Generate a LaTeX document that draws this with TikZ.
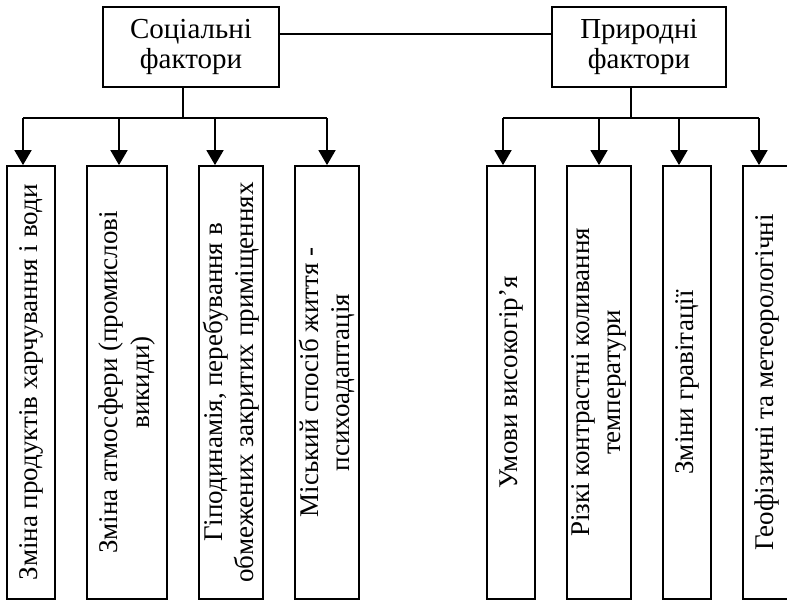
\documentclass[tikz,border=0pt]{standalone}
\usepackage{fontspec}
\setmainfont{Liberation Serif}
\usetikzlibrary{arrows.meta}
\begin{document}
\begin{tikzpicture}[x=1pt,y=-1pt,
  line/.style={line width=1.8pt},
  arr/.style={line width=1.8pt,-{Triangle[width=17pt,length=15pt]}},
  topbox/.style={draw,line width=1.8pt,align=center,inner sep=0pt,minimum height=80pt,
    font=\fontsize{29}{30}\selectfont},
  vbox/.style={draw,line width=1.8pt,align=center,inner sep=0pt,rotate=90,minimum width=433pt,
    font=\fontsize{27}{31.5}\selectfont}]
\useasboundingbox (0,0) rectangle (787,600);
% top boxes
\node[topbox,minimum width=176pt] (soc) at (191,47) {Соціальні\\фактори};
\node[topbox,minimum width=174pt] (nat) at (639,47) {Природні\\фактори};
\coordinate (lnk) at (400,34);
\draw[line] (soc.east |- lnk) -- (nat.west |- lnk);
% social boxes
\node[vbox,minimum height=48pt] (b1) at (31,382.5) {Зміна продуктів харчування і води};
\node[vbox,minimum height=80pt] (b2) at (127,382.5) {Зміна атмосфери (промислові\\викиди)};
\node[vbox,minimum height=64pt] (b3) at (231,382.5) {Гіподинамія, перебування в\\обмежених закритих приміщеннях};
\node[vbox,minimum height=64pt] (b4) at (327,382.5) {Міський спосіб життя -\\психоадаптація};
% natural boxes
\node[vbox,minimum height=48pt] (b5) at (511,382.5) {Умови високогір’я};
\node[vbox,minimum height=64pt] (b6) at (599,382.5) {Різкі контрастні коливання\\температури};
\node[vbox,minimum height=48pt] (b7) at (687,382.5) {Зміни гравітації};
\node[vbox,minimum height=48pt] (b8) at (767,382.5) {Геофізичні та метеорологічні};
% social tree
\coordinate (sj) at (183,118);
\coordinate (a1) at (23,118);
\coordinate (a2) at (119,118);
\coordinate (a3) at (215,118);
\coordinate (a4) at (327,118);
\draw[line] (soc.south -| sj) -- (sj);
\draw[line] (a1) -- (a4);
\draw[arr] (a1) -- (a1 |- b1.east);
\draw[arr] (a2) -- (a2 |- b2.east);
\draw[arr] (a3) -- (a3 |- b3.east);
\draw[arr] (a4) -- (a4 |- b4.east);
% natural tree
\coordinate (nj) at (631,118);
\coordinate (c1) at (503,118);
\coordinate (c2) at (599,118);
\coordinate (c3) at (679,118);
\coordinate (c4) at (759,118);
\draw[line] (nat.south -| nj) -- (nj);
\draw[line] (c1) -- (c4);
\draw[arr] (c1) -- (c1 |- b5.east);
\draw[arr] (c2) -- (c2 |- b6.east);
\draw[arr] (c3) -- (c3 |- b7.east);
\draw[arr] (c4) -- (c4 |- b8.east);
\end{tikzpicture}
\end{document}
